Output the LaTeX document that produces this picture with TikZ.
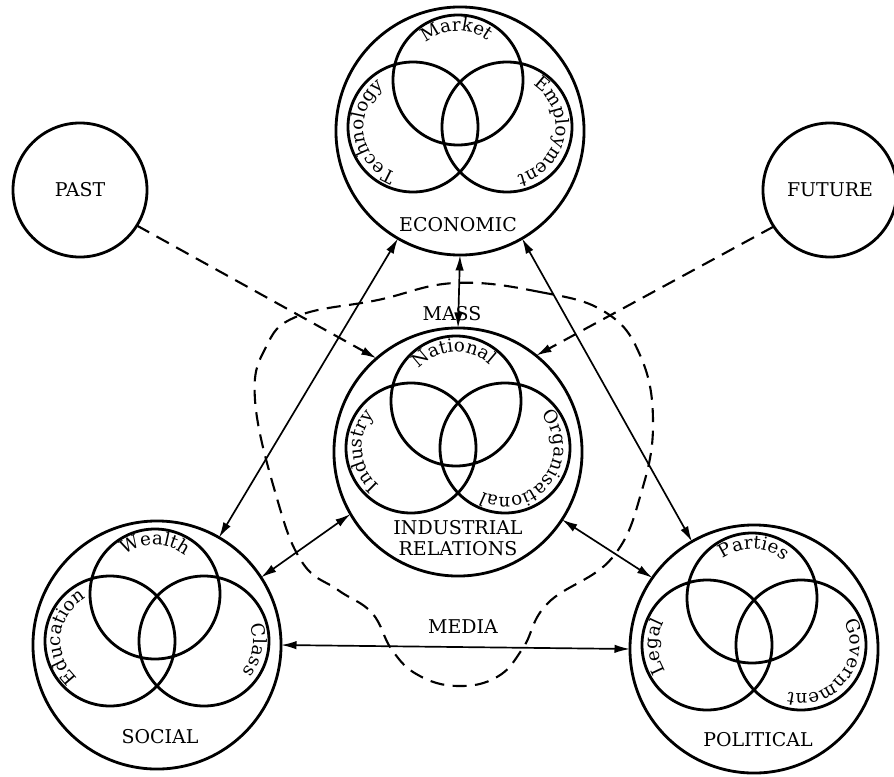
\documentclass[tikz,border=0pt]{standalone}
\usepackage{fontspec}
\setmainfont{DejaVu Serif}
\usepackage{tikz}
\usetikzlibrary{arrows.meta, decorations.text}
\tikzstyle{bigcircle}=[circle, draw, line width=2pt, minimum size=6.2cm,
  inner sep=0pt, outer sep=0pt]
\tikzstyle{timecircle}=[circle, draw, line width=2pt, minimum size=3.35cm,
  inner sep=0pt, outer sep=0pt, font=\fontsize{13.5}{15}\selectfont]
\tikzstyle{venn}=[line width=2pt]
\tikzstyle{venntext}=[decorate, decoration={text along path, text align=center}]
\tikzstyle{caption}=[font=\fontsize{13.5}{14.5}\selectfont, align=center, inner sep=1pt]
\tikzstyle{biarrow}=[{Latex[length=11pt,width=6pt]}-{Latex[length=11pt,width=6pt]}, line width=1.2pt]
\tikzstyle{timearrow}=[-{Latex[length=11pt,width=6pt]}, line width=1.5pt, dash pattern=on 10pt off 6pt]
\tikzstyle{zone}=[line width=1.5pt, dash pattern=on 10pt off 6pt]
\newcommand{\vennfont}{\fontsize{13}{15}\selectfont}

\begin{document}
\begin{tikzpicture}[x=0.025cm, y=0.025cm]
  \useasboundingbox (0,0) rectangle (894,-776);
  % main spheres
  \node[bigcircle] (eco) at (460,-131) {};
  \node[bigcircle] (ind) at (458,-452) {};
  \node[bigcircle] (soc) at (157,-645) {};
  \node[bigcircle] (pol) at (754,-649) {};
  \node[timecircle] (past) at (80,-190) {PAST};
  \node[timecircle] (future) at (830,-190) {FUTURE};

  % economic
  \begin{scope}[shift={(460,-131)}]
    \draw[venn] (-2,51) circle[radius=65] (-47,4) circle[radius=65] (47,4) circle[radius=65];
    \path[venntext, decoration={text={|\vennfont|Market}}, shift={(-2,51)}]
      (177:49) arc[start angle=177, end angle=7, radius=49];
    \path[venntext, decoration={text={|\vennfont|Technology}}, shift={(-47,4)}]
      (283:49) arc[start angle=283, end angle=93, radius=49];
    \path[venntext, decoration={text={|\vennfont|Employment}}, shift={(47,4)}]
      (85:49) arc[start angle=85, end angle=-105, radius=49];
  \end{scope}
  % industrial relations
  \begin{scope}[shift={(458,-452)}]
    \draw[venn] (-2,51) circle[radius=65] (-47,4) circle[radius=65] (47,4) circle[radius=65];
    \path[venntext, decoration={text={|\vennfont|National}}, shift={(-2,51)}]
      (178:49) arc[start angle=178, end angle=8, radius=49];
    \path[venntext, decoration={text={|\vennfont|Industry}}, shift={(-47,4)}]
      (269:49) arc[start angle=269, end angle=99, radius=49];
    \path[venntext, decoration={text={|\vennfont|Organisational}}, shift={(47,4)}]
      (73:49) arc[start angle=73, end angle=-147, radius=49];
  \end{scope}
  % social
  \begin{scope}[shift={(157,-645)}]
    \draw[venn] (-2,51) circle[radius=65] (-47,4) circle[radius=65] (47,4) circle[radius=65];
    \path[venntext, decoration={text={|\vennfont|Wealth}}, shift={(-2,51)}]
      (175:49) arc[start angle=175, end angle=5, radius=49];
    \path[venntext, decoration={text={|\vennfont|Education}}, shift={(-47,4)}]
      (259:49) arc[start angle=259, end angle=89, radius=49];
    \path[venntext, decoration={text={|\vennfont|Class}}, shift={(47,4)}]
      (75:49) arc[start angle=75, end angle=-95, radius=49];
  \end{scope}
  % political
  \begin{scope}[shift={(754,-649)}]
    \draw[venn] (-2,51) circle[radius=65] (-47,4) circle[radius=65] (47,4) circle[radius=65];
    \path[venntext, decoration={text={|\vennfont|Parties}}, shift={(-2,51)}]
      (173:49) arc[start angle=173, end angle=3, radius=49];
    \path[venntext, decoration={text={|\vennfont|Legal}}, shift={(-47,4)}]
      (267:49) arc[start angle=267, end angle=97, radius=49];
    \path[venntext, decoration={text={|\vennfont|Government}}, shift={(47,4)}]
      (67:49) arc[start angle=67, end angle=-143, radius=49];
  \end{scope}

  % labels
  \node[caption] (ecolabel) at (458,-225) {ECONOMIC};
  \node[caption] (indlabel) at (458,-538) {INDUSTRIAL\\RELATIONS};
  \node[caption] (soclabel) at (160,-737) {SOCIAL};
  \node[caption] (pollabel) at (758,-740) {POLITICAL};
  \node[caption] (masslabel) at (452,-314) {MASS};
  \node[caption] (medialabel) at (463,-627) {MEDIA};

  % mass and media zone
  \draw[zone] plot[smooth cycle, tension=0.7] coordinates {
    (455,-283) (540,-292) (605,-312) (640,-355) (653,-420) (642,-490)
    (612,-558) (548,-603) (523,-648) (497,-677) (457,-686) (418,-675)
    (392,-650) (372,-613) (338,-590) (302,-562) (276,-495) (255,-400)
    (266,-347) (298,-316) (378,-300)};

  % links
  \draw[biarrow] (eco.-120) -- (soc.60);
  \draw[biarrow] (eco.-60) -- (pol.120);
  \draw[biarrow] (eco.south) -- (ind.north);
  \draw[biarrow] (ind.210) -- (soc.33);
  \draw[biarrow] (ind.-33) -- (pol.145);
  \draw[biarrow] (soc.east) -- (pol.west);
  \draw[timearrow] (past.-32) -- (ind.131);
  \draw[timearrow] (future.213) -- (ind.51);
\end{tikzpicture}
\end{document}
